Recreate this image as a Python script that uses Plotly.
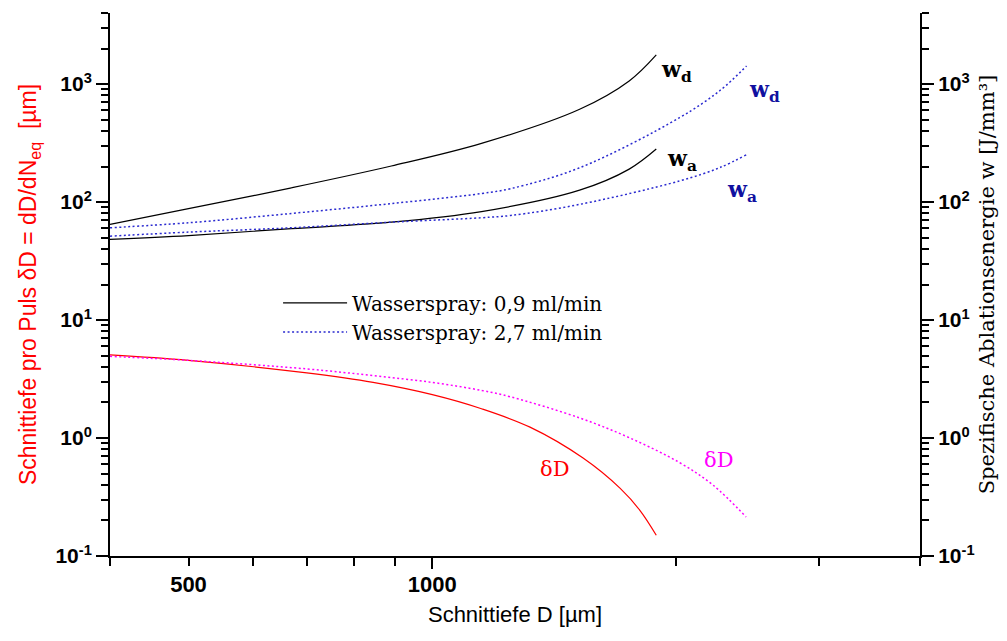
import math
import plotly.graph_objects as go

# ---- data ----
# Spray 0.9 ml/min
D_w_a = [400, 500, 670, 890, 1150, 1520, 1750, 1890]
wd_a = [64.6, 87.8, 132, 202, 314, 611, 1062, 1766]
wa_a = [48.2, 52.0, 59.5, 67.5, 83, 126, 190, 281]
D_d_a = [400, 500, 700, 845, 1000, 1150, 1320, 1535, 1706, 1804, 1890]
dD_a = [5.06, 4.55, 3.56, 2.96, 2.33, 1.77, 1.236, 0.676, 0.374, 0.244, 0.150]

# Spray 2.7 ml/min
D_w_b = [400, 500, 670, 890, 1150, 1250, 1520, 2020, 2265, 2443]
wd_b = [60.5, 66.7, 80, 97, 118, 130, 195, 520, 881, 1422]
wa_b = [51.4, 55.6, 60.5, 67.5, 73.6, 76.9, 95.5, 151, 196, 252]
D_d_b = [400, 500, 700, 845, 1000, 1150, 1250, 1520, 1750, 2020, 2220, 2440]
dD_b = [4.92, 4.55, 3.85, 3.38, 2.96, 2.53, 2.23, 1.48, 1.007, 0.618, 0.40, 0.214]

legend_names = ["Wasserspray: 0,9 ml/min", "Wasserspray: 2,7 ml/min"]

# label anchors (D, value)
labels = [
    ("w<sub>d</sub>", 1905, 1290, "#000000", True),
    ("w<sub>d</sub>", 2445, 870, "#1010a0", True),
    ("w<sub>a</sub>", 1935, 225, "#000000", True),
    ("w<sub>a</sub>", 2295, 124, "#1010a0", True),
    ("δD", 1415, 0.55, "#ff0000", False),
    ("δD", 2255, 0.653, "#ff00ff", False),
]

x_major = [500, 1000]
x_minor = [400, 600, 700, 800, 900, 2000, 3000, 4000]
y_major = [0.1, 1, 10, 100, 1000]
y_text = ["10<sup>-1</sup>", "10<sup>0</sup>", "10<sup>1</sup>", "10<sup>2</sup>", "10<sup>3</sup>"]
y_minor = [m * 10 ** e for e in range(-1, 4) for m in range(2, 10) if m * 10 ** e <= 4000]

XR = [math.log10(400), math.log10(4000)]
YR = [-1, math.log10(4000)]

BLUE = "#2a2ad0"
DOT = "2px,2.5px"

fig = go.Figure()
fig.add_trace(go.Scatter(x=D_w_a, y=wd_a, mode="lines", line=dict(color="black", width=1.2, shape="spline"),
                         name=legend_names[0], showlegend=True))
fig.add_trace(go.Scatter(x=D_w_a, y=wa_a, mode="lines", line=dict(color="black", width=1.2, shape="spline"),
                         showlegend=False))
fig.add_trace(go.Scatter(x=D_w_b, y=wd_b, mode="lines", line=dict(color=BLUE, width=1.5, dash=DOT, shape="spline"),
                         name=legend_names[1], showlegend=True))
fig.add_trace(go.Scatter(x=D_w_b, y=wa_b, mode="lines", line=dict(color=BLUE, width=1.5, dash=DOT, shape="spline"),
                         showlegend=False))
fig.add_trace(go.Scatter(x=D_d_a, y=dD_a, mode="lines", line=dict(color="#ff0000", width=1.2, shape="spline"),
                         showlegend=False))
fig.add_trace(go.Scatter(x=D_d_b, y=dD_b, mode="lines", line=dict(color="#ff00ff", width=1.5, dash=DOT, shape="spline"),
                         showlegend=False))

for txt, xv, yv, col, bold in labels:
    fig.add_annotation(x=math.log10(xv), y=math.log10(yv), xref="x", yref="y", text=txt,
                       showarrow=False, xanchor="left" if bold else "center", yanchor="middle",
                       font=dict(family="DejaVu Serif", size=22 if bold else 21, color=col,
                                 weight="bold" if bold else "normal"))

ytickfont = dict(family="Liberation Sans", size=21, color="black", weight="bold")
xtickfont = dict(family="Liberation Sans", size=22, color="black", weight="bold")

yaxis_common = dict(type="log", range=YR, showline=True, linecolor="black", linewidth=2,
                    ticks="outside", ticklen=12, tickwidth=1.5, tickcolor="black",
                    tickvals=y_major, ticktext=y_text, tickfont=ytickfont,
                    showgrid=False, zeroline=False,
                    minor=dict(tickvals=y_minor, ticks="outside", ticklen=7, tickwidth=1.5,
                               tickcolor="black", showgrid=False))

fig.update_layout(
    width=1007, height=641,
    margin=dict(l=110, r=87, t=13, b=85),
    paper_bgcolor="white", plot_bgcolor="white",
    showlegend=True,
    legend=dict(x=0.2075, y=0.502, xanchor="left", yanchor="top", bgcolor="rgba(0,0,0,0)",
                font=dict(family="DejaVu Serif", size=20, color="black"),
                itemwidth=64, tracegroupgap=0),
    xaxis=dict(type="log", range=XR, showline=True, linecolor="black", linewidth=2,
               ticks="outside", ticklen=8, tickwidth=1.5, tickcolor="black",
               tickvals=x_major, ticktext=[str(v) for v in x_major],
               tickfont=xtickfont, showgrid=False, zeroline=False,
               minor=dict(tickvals=x_minor, ticks="outside", ticklen=8, tickwidth=1.5, tickcolor="black", showgrid=False),
               title=dict(text="Schnittiefe D [µm]", font=dict(family="Liberation Sans", size=22, color="black"),
                          standoff=10)),
    xaxis2=dict(type="log", range=XR, overlaying="x", side="bottom", anchor="y", showline=False,
                ticks="outside", ticklen=12, tickwidth=1.5, tickcolor="black",
                tickvals=[1000], showticklabels=False, showgrid=False, zeroline=False),
    yaxis=dict(**yaxis_common,
               title=dict(text="Schnittiefe pro Puls δD = dD/dN<sub>eq</sub>  [µm]",
                          font=dict(family="Liberation Sans", size=23, color="#ff0000"), standoff=12)),
    yaxis2=dict(**yaxis_common, overlaying="y", side="right", anchor="x",
                title=dict(text="Spezifische Ablationsenergie w [J/mm³]",
                           font=dict(family="DejaVu Serif", size=21, color="black"), standoff=6)),
)

# invisible helper trace so the overlay axes render
fig.add_trace(go.Scatter(x=[D_w_a[0]], y=[wd_a[0]], xaxis="x2", yaxis="y2", mode="lines",
                         showlegend=False, hoverinfo="skip", opacity=0))

fig.write_html("out.html")
